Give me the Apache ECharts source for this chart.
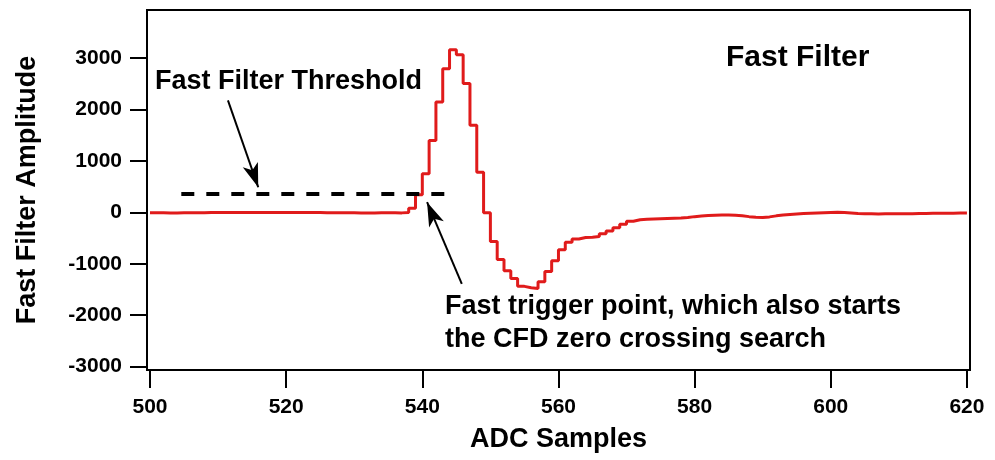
<!DOCTYPE html>
<html>
<head>
<meta charset="utf-8">
<script src="https://cdn.jsdelivr.net/npm/echarts@6/dist/echarts.min.js"></script>
<style>
html,body{margin:0;padding:0;background:#fff;}
#chart{width:995px;height:460px;}
</style>
</head>
<body>
<div id="chart"></div>
<script>
// ADC sample numbers 500..620
const samples = [];
for (let s = 500; s <= 620; s++) samples.push(s);
// Fast filter amplitude per sample
const amplitude = [
  -10,-10,-12,-12,-10,-10,-8,-8,-6,-6,
  -5,-5,-4,-4,-5,-5,-6,-6,-5,-5,
  -4,-4,-5,-5,-6,-8,-8,-10,-10,-10,
  -12,-12,-12,-10,-10,-10,-12,-5,
  80,340,750,1395,2140,2790,3160,3060,2500,1690,778,-10,
  -570,-920,-1135,-1285,-1440,-1465,-1480,-1350,-1150,-940,
  -730,-585,-520,-490,-485,-470,-420,-365,-300,-235,
  -175,-145,-135,-130,-125,-120,-115,-110,-100,-85,
  -75,-65,-60,-55,-55,-60,-70,-85,-95,-100,
  -90,-70,-55,-45,-35,-25,-20,-15,-10,-5,
  0,-5,-15,-25,-30,-30,-32,-30,-28,-30,
  -30,-28,-25,-22,-20,-20,-18,-18,-15,-15,-15
];
const xTicks = [500, 520, 540, 560, 580, 600, 620];
const yTicks = [-3000, -2000, -1000, 0, 1000, 2000, 3000];
const threshold = 350;
const thresholdStart = 504.6, thresholdEnd = 544.1;
const thresholdArrow = [[511.45, 2173], [515.9, 486]];
const triggerArrow = [[545.8, -1391], [540.7, 195]];

const data = samples.map((s, i) => [s, amplitude[i]]);
const chart = echarts.init(document.getElementById('chart'), null, {renderer: 'canvas'});
const FONT = '"Liberation Sans", Arial, sans-serif';
chart.setOption({
  animation: false,
  backgroundColor: '#fff',
  grid: {left: 147, right: 25, top: 10, bottom: 90, show: true, borderColor: '#000', borderWidth: 2, backgroundColor: 'transparent'},
  xAxis: {
    type: 'value', min: 499.56, max: 620.45,
    name: 'ADC Samples', nameLocation: 'middle', nameGap: 56,
    nameTextStyle: {fontFamily: FONT, fontWeight: 'bold', fontSize: 27, color: '#000'},
    axisLine: {show: true, onZero: false, lineStyle: {color: '#000', width: 2}},
    axisTick: {show: true, inside: false, length: 18, customValues: xTicks, lineStyle: {color: '#000', width: 2}},
    axisLabel: {customValues: xTicks, margin: 27, fontFamily: FONT, fontWeight: 'bold', fontSize: 21, color: '#000',
      formatter: v => String(v)},
    splitLine: {show: false}
  },
  yAxis: {
    type: 'value', min: -3065, max: 3930,
    name: 'Fast Filter Amplitude', nameLocation: 'middle', nameGap: 106,
    nameTextStyle: {fontFamily: FONT, fontWeight: 'bold', fontSize: 27, color: '#000'},
    axisLine: {show: true, onZero: false, lineStyle: {color: '#000', width: 2}},
    axisTick: {show: true, inside: false, length: 17, customValues: yTicks, lineStyle: {color: '#000', width: 2}},
    axisLabel: {customValues: yTicks, margin: 25, fontFamily: FONT, fontWeight: 'bold', fontSize: 21, color: '#000',
      formatter: v => String(v)},
    splitLine: {show: false}
  },
  series: [{
    type: 'line', step: 'end', data: data, showSymbol: false, symbol: 'none',
    lineStyle: {color: '#e01b1b', width: 3}, itemStyle: {color: '#e01b1b'},
    emphasis: {disabled: true}, silent: true,
    markLine: {
      silent: true, animation: false, label: {show: false},
      data: [
        [{coord: [thresholdStart, threshold], symbol: 'none', lineStyle: {color: '#000', width: 4, type: [13, 12], cap: 'butt'}},
         {coord: [thresholdEnd, threshold], symbol: 'none'}],
        [{coord: thresholdArrow[0], symbol: 'none', lineStyle: {color: '#000', width: 2, type: 'solid'}},
         {coord: thresholdArrow[1], symbol: 'arrow', symbolSize: [12, 24]}],
        [{coord: triggerArrow[0], symbol: 'none', lineStyle: {color: '#000', width: 2, type: 'solid'}},
         {coord: triggerArrow[1], symbol: 'arrow', symbolSize: [12, 24]}]
      ]
    }
  }],
  graphic: [
    {type: 'text', left: 726, top: 43, style: {text: 'Fast Filter', font: 'bold 30px ' + FONT, fill: '#000'}},
    {type: 'text', left: 155, top: 68, style: {text: 'Fast Filter Threshold', font: 'bold 27px ' + FONT, fill: '#000'}},
    {type: 'text', left: 445, top: 293, style: {text: 'Fast trigger point, which also starts', font: 'bold 27px ' + FONT, fill: '#000'}},
    {type: 'text', left: 445, top: 326, style: {text: 'the CFD zero crossing search', font: 'bold 27px ' + FONT, fill: '#000'}}
  ]
});
</script>
</body>
</html>
